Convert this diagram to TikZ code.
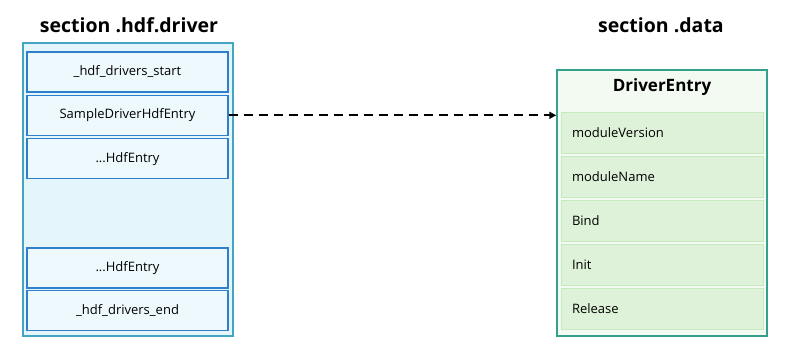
\documentclass[tikz,border=0pt]{standalone}
\usepackage{fontspec}
\setmainfont{Open Sans}
\usepackage{tikz}
\usetikzlibrary{arrows.meta,positioning,calc}
\definecolor{secline}{HTML}{45A5C4}
\definecolor{secfill}{HTML}{E4F6FB}
\definecolor{slotline}{HTML}{2F80CC}
\definecolor{slotfill}{HTML}{EEF9FD}
\definecolor{dataline}{HTML}{35A08C}
\definecolor{datafill}{HTML}{F3FAF2}
\definecolor{fieldline}{HTML}{C6E9C0}
\definecolor{fieldfill}{HTML}{DDF2D8}

\begin{document}
\begin{tikzpicture}[
  x=1pt,y=-1pt,
  every node/.style={font=\fontsize{13}{15}\selectfont,inner sep=0pt},
  title/.style={font=\fontsize{19.5}{22}\selectfont\bfseries},
  section/.style={draw=secline,fill=secfill,line width=1.5pt,minimum width=210pt,minimum height=293pt},
  slot/.style={draw=slotline,fill=slotfill,line width=1.3pt,minimum width=201pt,minimum height=40pt},
  data/.style={draw=dataline,fill=datafill,line width=1.5pt,minimum width=210pt,minimum height=266pt},
  field/.style={draw=fieldline,fill=fieldfill,line width=1pt,minimum width=202pt,minimum height=41pt,
    text width=180pt,align=left},
  link/.style={-{Triangle[length=7pt,width=7pt]},line width=2.3pt,dash pattern=on 9pt off 6pt}
]
\useasboundingbox (0,0) rectangle (800,351);
% left: section .hdf.driver
\node[title] (hdftitle) at (129,25) {section .hdf.driver};
\node[section] (hdf) at (128,189.5) {};
\node[slot] (start) at (127.5,72) {\_hdf\_drivers\_start};
\node[slot,below=2pt of start] (sample) {SampleDriverHdfEntry};
\node[slot,below=2pt of sample] (entryA) {...HdfEntry};
\node[slot] (entryB) at (127.5,268) {...HdfEntry};
\node[slot,below=1pt of entryB] (finish) {\_hdf\_drivers\_end};
% right: section .data
\node[title] (datatitle) at (661,25) {section .data};
\node[data] (entry) at (662,203) {};
\node[title,font=\fontsize{17}{20}\selectfont\bfseries] (entryname) at (662,87) {DriverEntry};
\node[field] (version) at (662,132.5) {moduleVersion};
\node[field,below=2pt of version] (modname) {moduleName};
\node[field,below=2pt of modname] (bind) {Bind};
\node[field,below=2pt of bind] (init) {Init};
\node[field,below=2pt of init] (release) {Release};
\draw[link] (sample.east) -- (entry.west |- sample.east);
\end{tikzpicture}
\end{document}
